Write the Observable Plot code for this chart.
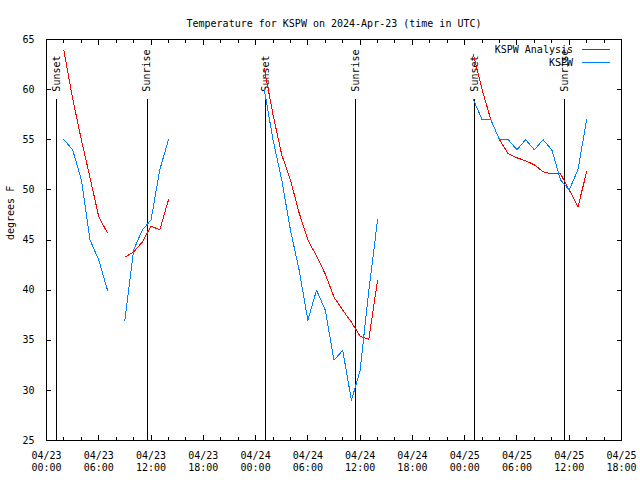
<!DOCTYPE html>
<html><head><meta charset="utf-8">
<script src="https://cdn.jsdelivr.net/npm/d3@7"></script>
<script src="https://cdn.jsdelivr.net/npm/@observablehq/plot@0.6"></script>
<style>
body{margin:0;background:#fff;}
#wrap{position:relative;width:640px;height:480px;font-family:"DejaVu Sans Mono",monospace;font-size:10px;color:#000;}
.legtext{position:absolute;right:67px;line-height:12px;white-space:nowrap;}
.legline{position:absolute;left:582px;width:28px;height:0;}
</style></head><body><div id="wrap"></div>
<script>
// hours since 2024-04-23 00:00 UTC (null values break the lines)
const hoursUTC = [2,3,4,5,6,7,8, 9,10,11,12,13,14,15,
  25,26,27,28,29,30,31,32,33,34,35,36,37,38,39,
  49,50,51,52,53,54,55,56,57,58,59,60,61,62];
const kspwObs = [55,54,51,45,43,40,null, 37,44,46,47,52,55,null,
  60,55,51,46,42,37,40,38,33,34,29,32,40,47,null,
  59,57,57,55,55,54,55,54,55,54,51,50,52,57];
const kspwAnalysis = [63.9,59.1,55.0,51.2,47.3,45.7,null, 43.3,43.8,44.8,46.4,46.0,49.0,null,
  62.1,57.5,53.5,51.0,47.7,45.0,43.4,41.6,39.3,38.0,36.8,35.4,35.1,41.0,null,
  63.5,60.0,57.0,55.0,53.6,53.2,52.9,52.5,51.8,51.6,51.6,50.0,48.3,51.8];

const sunTimes = ["2024-04-23T01:09Z","2024-04-23T11:33Z","2024-04-24T01:09Z","2024-04-24T11:29Z","2024-04-25T01:09Z","2024-04-25T11:28Z"];
const sunLabels = ["Sunset","Sunrise","Sunset","Sunrise","Sunset","Sunrise"];

const majorTickHours = [0,6,12,18,24,30,36,42,48,54,60,66];
const minorTickHours = [0,2,4,6,8,10,12,14,16,18,20,22,24,26,28,30,32,34,36,38,40,42,44,46,48,50,52,54,56,58,60,62,64,66];
const tickDates = ["04/23","04/23","04/23","04/23","04/24","04/24","04/24","04/24","04/25","04/25","04/25","04/25"];
const tickTimes = ["00:00","06:00","12:00","18:00","00:00","06:00","12:00","18:00","00:00","06:00","12:00","18:00"];
const yTicks = [25,30,35,40,45,50,55,60,65];

const titleText = "Temperature for KSPW on 2024-Apr-23 (time in UTC)";
const yLabel = "degrees F";
const seriesNames = ["KSPW Analysis","KSPW"];
const seriesColors = ["#ff0000","#0080ff"];

const T0 = Date.UTC(2024,3,23);
const toDate = h => new Date(T0 + h*3600e3);
const rows = hoursUTC.map((h,i)=>({t: toDate(h), obs: kspwObs[i], ana: kspwAnalysis[i]}));
const sunEvents = sunTimes.map((s,i)=>({t: new Date(s), label: sunLabels[i]}));
const majorDates = majorTickHours.map(toDate);
const minorDates = minorTickHours.map(toDate);
const fmtTick = d => { const i = majorDates.findIndex(m => +m === +d); return i < 0 ? null : tickDates[i] + "\n" + tickTimes[i]; };

const chart = Plot.plot({
  width: 640, height: 480,
  marginLeft: 46, marginRight: 19, marginTop: 39, marginBottom: 40,
  style: {fontFamily: "DejaVu Sans Mono, monospace", fontSize: "10px", background: "white", color: "black", overflow: "visible"},
  x: {type: "utc", domain: [toDate(0), toDate(66)], label: null},
  y: {domain: [25, 65], label: null},
  marks: [
    Plot.ruleX(sunEvents, {x: "t", y1: 25, y2: 59, stroke: "black", shapeRendering: "crispEdges"}),
    Plot.text(sunEvents, {x: "t", y: 59.8, text: "label", rotate: -90, textAnchor: "start", lineAnchor: "middle", fill: "black"}),
    Plot.line(rows, {x: "t", y: "ana", stroke: seriesColors[0], strokeWidth: 1, shapeRendering: "crispEdges"}),
    Plot.line(rows, {x: "t", y: "obs", stroke: seriesColors[1], strokeWidth: 1, shapeRendering: "crispEdges"}),
    Plot.axisX({anchor: "bottom", ticks: minorDates, tickSize: -3, fill: "none", label: null, shapeRendering: "crispEdges"}),
    Plot.axisX({anchor: "top", ticks: minorDates, tickSize: -3, fill: "none", label: null, shapeRendering: "crispEdges"}),
    Plot.axisX({anchor: "bottom", ticks: majorDates, tickSize: -5, fill: "none", label: null, shapeRendering: "crispEdges"}),
    Plot.axisX({anchor: "top", ticks: majorDates, tickSize: -5, fill: "none", label: null, shapeRendering: "crispEdges"}),
    Plot.axisX({anchor: "bottom", ticks: majorDates, tickSize: 0, tickPadding: 10, tickFormat: fmtTick, lineHeight: 1.2, label: null}),
    Plot.axisY({anchor: "left", ticks: yTicks, tickSize: -5, tickPadding: 17, label: null, shapeRendering: "crispEdges"}),
    Plot.axisY({anchor: "right", ticks: yTicks, tickSize: -5, fill: "none", label: null, shapeRendering: "crispEdges"}),
    Plot.frame({stroke: "black", shapeRendering: "crispEdges"}),
    Plot.text([titleText], {text: d => d, frameAnchor: "top", dy: -20}),
    Plot.text([yLabel], {text: d => d, frameAnchor: "left", dx: -36, rotate: -90})
  ]
});
const wrap = document.getElementById("wrap");
wrap.appendChild(chart);
// legend
const legTops = [44, 57];
seriesNames.forEach((name, i) => {
  const t = document.createElement("div");
  t.className = "legtext"; t.textContent = name; t.style.top = legTops[i] + "px";
  wrap.appendChild(t);
  const l = document.createElement("div");
  l.className = "legline"; l.style.top = (legTops[i] + 5) + "px";
  l.style.borderTop = "1px solid " + seriesColors[i];
  wrap.appendChild(l);
});
</script></body></html>
